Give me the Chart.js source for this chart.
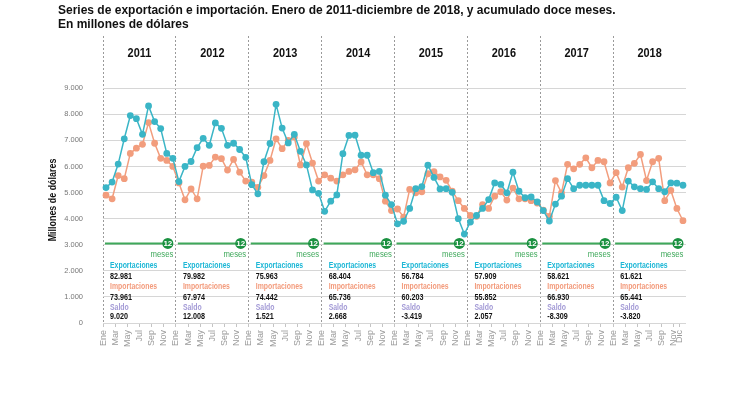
<!DOCTYPE html>
<html>
<head>
<meta charset="utf-8">
<script src="https://cdn.jsdelivr.net/npm/chart.js@4.4.1/dist/chart.umd.min.js"></script>
<style>
  body { margin: 0; background: #fff; }
</style>
</head>
<body>
<canvas id="grafico" width="750" height="397"></canvas>
<script>
// Datos: exportaciones e importaciones mensuales (millones de dólares)
const anios = ['2011', '2012', '2013', '2014', '2015', '2016', '2017', '2018'];
const meses = ['Ene', 'Feb', 'Mar', 'Abr', 'May', 'Jun', 'Jul', 'Ago', 'Sep', 'Oct', 'Nov', 'Dic'];

const exportaciones = [
  5190, 5400, 6090, 7060, 7950, 7830, 7230, 8320, 7720, 7450, 6500, 6310,
  5420, 6000, 6190, 6720, 7080, 6810, 7670, 7460, 6810, 6890, 6650, 6350,
  5300, 4950, 6180, 6880, 8380, 7470, 6900, 7230, 6580, 6060, 5100, 4970,
  4280, 4670, 4910, 6490, 7190, 7200, 6430, 6430, 5760, 5810, 4900, 4540,
  3800, 3900, 4390, 5150, 5230, 6050, 5580, 5140, 5150, 5010, 4000, 3410,
  3870, 4120, 4390, 4730, 5370, 5310, 4990, 5780, 5050, 4800, 4830, 4640,
  4310, 3910, 4560, 4860, 5530, 5150, 5280, 5280, 5280, 5280, 4690, 4580,
  4820, 4310, 5440, 5220, 5150, 5120, 5410, 5150, 5030, 5370, 5360, 5280
];
const importaciones = [
  4900, 4760, 5650, 5530, 6500, 6700, 6850, 7680, 6890, 6310, 6230, 6000,
  5370, 4720, 5140, 4760, 6010, 6040, 6360, 6300, 5860, 6270, 5780, 5440,
  5400, 5200, 5650, 6230, 7060, 6680, 7000, 7130, 6060, 6870, 6130, 5440,
  5680, 5550, 5440, 5680, 5810, 5870, 6170, 5680, 5680, 5530, 4670, 4310,
  4370, 4060, 5120, 4990, 5030, 5720, 5800, 5600, 5470, 5050, 4690, 4390,
  4120, 4090, 4540, 4390, 4860, 5030, 4710, 5170, 4760, 4760, 4690, 4600,
  4330, 4090, 5460, 4990, 6080, 5910, 6080, 6330, 5950, 6230, 6180, 5370,
  5760, 5210, 5950, 6120, 6460, 5460, 6180, 6310, 4690, 5080, 4390, 3920
];

// acumulado doce meses por año
const exportTotal = [82981, 79982, 75963, 68404, 56784, 57909, 58621, 61621];
const importTotal = [73961, 67974, 74442, 65736, 60203, 55852, 66930, 65441];
const saldo = [9020, 12008, 1521, 2668, -3419, 2057, -8309, -3820];
const nivelDoceMeses = 3050;

const categorias = [];
anios.forEach(a => meses.forEach(m => categorias.push(m + ' ' + a)));

const FUENTE = "'Liberation Sans Narrow', 'Arial Narrow', 'Liberation Sans', Arial, sans-serif";
const C_EXP = '#3ab5c6', C_IMP = '#f29d7d';
const T_EXP = '#1db7d6', T_IMP = '#f39b7c', T_SALDO = '#a39ad6', VERDE = '#1a9140';

function fmt(n) {
  const s = String(Math.abs(n)).replace(/\B(?=(\d{3})+(?!\d))/g, '.');
  return (n < 0 ? '-' : '') + s;
}

// texto comprimido horizontalmente (la fuente original es mas angosta)
function texto(ctx, str, x, y, sx) {
  ctx.save();
  ctx.translate(x, y);
  ctx.scale(sx, 1);
  ctx.fillText(str, 0, 0);
  ctx.restore();
}

// textos, linea de 12 meses y anotaciones
const anotaciones = {
  id: 'anotaciones',
  afterDraw(chart) {
    const ctx = chart.ctx, x = chart.scales.x, y = chart.scales.y;
    const medio = (x.getPixelForValue(1) - x.getPixelForValue(0)) / 2;
    ctx.save();

    // titulo
    ctx.fillStyle = '#111';
    ctx.textAlign = 'left';
    ctx.textBaseline = 'alphabetic';
    ctx.font = 'bold 12px ' + FUENTE;
    ctx.fillText('Series de exportación e importación. Enero de 2011-diciembre de 2018, y acumulado doce meses.', 58, 14);
    ctx.fillText('En millones de dólares', 58, 27.5);

    // titulo eje y
    ctx.save();
    ctx.translate(53, 200);
    ctx.rotate(-Math.PI / 2);
    ctx.textAlign = 'center';
    ctx.textBaseline = 'middle';
    ctx.font = 'bold 11px ' + FUENTE;
    texto(ctx, 'Millones de dólares', 0, 0, 0.81);
    ctx.restore();

    const yVerde = y.getPixelForValue(nivelDoceMeses);
    anios.forEach((anio, i) => {
      const x0 = x.getPixelForValue(i * 12) - medio;
      const x1 = x.getPixelForValue(i * 12 + 11) + medio;

      // año
      ctx.fillStyle = '#111';
      ctx.textAlign = 'center';
      ctx.textBaseline = 'alphabetic';
      ctx.font = 'bold 13px ' + FUENTE;
      texto(ctx, anio, (x0 + x1) / 2, 56.5, 0.84);

      // linea 12 meses
      const xc = x.getPixelForValue(i * 12 + 11) - 5;
      ctx.strokeStyle = '#3ea85a';
      ctx.lineWidth = 2;
      ctx.beginPath();
      ctx.moveTo(x0 + 2, yVerde);
      ctx.lineTo(xc, yVerde);
      ctx.stroke();
      ctx.fillStyle = VERDE;
      ctx.beginPath();
      ctx.arc(xc, yVerde, 5.5, 0, Math.PI * 2);
      ctx.fill();
      ctx.fillStyle = '#fff';
      ctx.font = 'bold 8px ' + FUENTE;
      ctx.textBaseline = 'middle';
      ctx.fillText('12', xc, yVerde + 0.5);
      ctx.fillStyle = '#3ea85a';
      ctx.textAlign = 'right';
      ctx.font = '9px ' + FUENTE;
      texto(ctx, 'meses', xc + 5.5, yVerde + 11, 0.86);

      // acumulados
      const tx = x0 + 7;
      ctx.textAlign = 'left';
      ctx.font = 'bold 8.5px ' + FUENTE;
      ctx.fillStyle = T_EXP;
      texto(ctx, 'Exportaciones', tx, 265.7, 0.81);
      ctx.fillStyle = T_IMP;
      texto(ctx, 'Importaciones', tx, 287, 0.81);
      ctx.fillStyle = T_SALDO;
      texto(ctx, 'Saldo', tx, 307.7, 0.81);
      ctx.fillStyle = '#111';
      ctx.font = 'bold 9px ' + FUENTE;
      texto(ctx, fmt(exportTotal[i]), tx, 276.7, 0.8);
      texto(ctx, fmt(importTotal[i]), tx, 297.7, 0.8);
      texto(ctx, fmt(saldo[i]), tx, 316.7, 0.8);
    });
    ctx.restore();
  }
};

Chart.defaults.font.family = FUENTE;

new Chart(document.getElementById('grafico'), {
  type: 'line',
  data: {
    labels: categorias,
    datasets: [
      {
        label: 'Exportaciones',
        data: exportaciones,
        borderColor: C_EXP,
        backgroundColor: C_EXP,
        borderWidth: 1.5,
        pointRadius: 3.4,
        pointBorderWidth: 0,
        tension: 0
      },
      {
        label: 'Importaciones',
        data: importaciones,
        borderColor: C_IMP,
        backgroundColor: C_IMP,
        borderWidth: 1.5,
        pointRadius: 3.4,
        pointBorderWidth: 0,
        tension: 0
      }
    ]
  },
  options: {
    responsive: false,
    animation: false,
    devicePixelRatio: 1,
    layout: { padding: { top: 36, right: 64, left: 0, bottom: 0 } },
    plugins: { legend: { display: false }, tooltip: { enabled: false } },
    scales: {
      x: {
        offset: true,
        border: { display: false, dash: [2, 2] },
        grid: {
          offset: true,
          color: c => (c.index % 12 === 0 ? '#9a9a9a' : 'rgba(0,0,0,0)'),
          tickColor: c => (c.index % 2 === 0 || c.index === 95 ? '#c4c4c4' : 'rgba(0,0,0,0)'),
          tickBorderDash: [],
          tickLength: 4,
          lineWidth: 1
        },
        ticks: {
          autoSkip: false,
          maxRotation: 90,
          minRotation: 90,
          labelOffset: -3,
          padding: 3,
          color: '#9a9a9a',
          font: { size: 9 },
          callback: (v, i) => (i % 2 === 0 ? meses[i % 12] : (i === 95 ? 'Dic' : ''))
        },
        afterFit: s => { s.height = 74; }
      },
      y: {
        min: 0,
        max: 11000,
        border: { display: false },
        grid: {
          color: c => (c.tick && c.tick.value > 9000 ? 'rgba(0,0,0,0)' : '#d6d6d6'),
          drawTicks: false,
          lineWidth: 1
        },
        ticks: {
          stepSize: 1000,
          padding: 20,
          color: '#777',
          font: { size: 7.5 },
          callback: v => (v > 9000 ? '' : fmt(v))
        },
        afterFit: s => { s.width = 103; }
      }
    }
  },
  plugins: [anotaciones]
});
</script>
</body>
</html>
